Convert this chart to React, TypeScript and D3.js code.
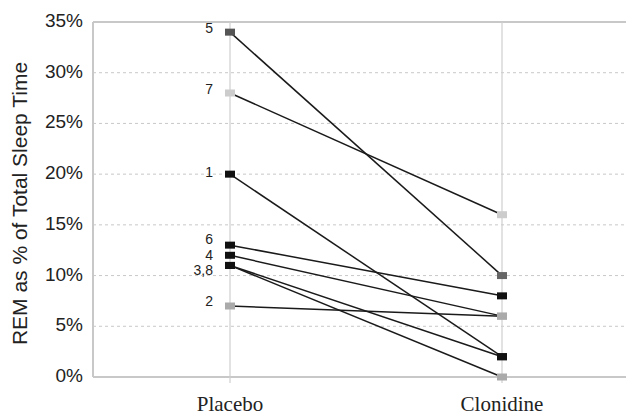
import React from "react";
import * as d3 from "d3";

// conditions on the x axis
const conditions = ["Placebo", "Clonidine"];

// REM % per subject (subjects 1..8)
const subjects = ["1", "2", "3", "4", "5", "6", "7", "8"];
const placebo = [20, 7, 11, 12, 34, 13, 28, 11];
const clonidine = [2, 6, 0, 6, 10, 8, 16, 2];
const placeboColor = ["#111", "#aaa", "#111", "#111", "#555", "#111", "#ccc", "#111"];
const clonidineColor = ["#111", "#aaa", "#aaa", "#aaa", "#666", "#111", "#ccc", "#111"];

// labels shown next to the placebo markers
const labelText = ["5", "7", "1", "6", "4", "3,8", "2"];
const labelValue = [34, 28, 20, 13, 12, 11, 7];

const yTicks = [0, 5, 10, 15, 20, 25, 30, 35];

const W = 626;
const H = 415;

export default function App() {
  const y = d3.scaleLinear().domain([0, 35]).range([377, 22]);
  const x = d3.scalePoint<string>().domain(conditions).range([230, 502]);
  const left = 93;

  // little nudges so the stacked labels don't collide
  const nudge: Record<string, number> = { "5": -3, "7": -3, "1": -1, "6": -5, "4": 1, "3,8": 6, "2": -4 };

  // draw gray/light markers first, black ones on top
  const order = [1, 2, 3, 6, 4, 0, 5, 7];

  return (
    <div style={{ position: "absolute", left: 0, top: 0 }}>
      <svg width={W} height={H} style={{ display: "block", background: "#fff" }}>
        {/* grid */}
        {yTicks.map((t) => (
          <line
            key={"g" + t}
            x1={left}
            x2={W}
            y1={y(t)}
            y2={y(t)}
            stroke={t === 0 || t === 35 ? "#c8c8c8" : "#c8c8c8"}
            strokeWidth={t === 0 || t === 35 ? 2 : 1}
            strokeDasharray={t === 0 || t === 35 ? undefined : "3,3"}
          />
        ))}
        <line x1={left} x2={left} y1={y(35)} y2={y(0)} stroke="#c8c8c8" strokeWidth={2} />
        {conditions.map((c) => (
          <line key={"v" + c} x1={x(c)} x2={x(c)} y1={y(35)} y2={y(0) + 6} stroke="#cfcfcf" strokeWidth={1.2} />
        ))}

        {/* y ticks */}
        {yTicks.map((t) => (
          <text
            key={"t" + t}
            x={83}
            y={y(t)}
            textAnchor="end"
            dominantBaseline="middle"
            fontFamily="Liberation Sans, Arial, sans-serif"
            fontSize={19}
            fill="#222"
          >
            {t + "%"}
          </text>
        ))}
        <text
          transform={`translate(21,${(y(35) + y(0)) / 2 + 4}) rotate(-90)`}
          textAnchor="middle"
          dominantBaseline="middle"
          fontFamily="Liberation Sans, Arial, sans-serif"
          fontSize={21}
          fill="#222"
        >
          REM as % of Total Sleep Time
        </text>

        {/* x labels */}
        {conditions.map((c) => (
          <text
            key={"x" + c}
            x={x(c)}
            y={411}
            textAnchor="middle"
            fontFamily="Liberation Serif, Times New Roman, serif"
            fontSize={21}
            fill="#222"
          >
            {c}
          </text>
        ))}

        {/* subject lines */}
        {subjects.map((s, i) => (
          <line
            key={"l" + s}
            x1={x("Placebo")}
            y1={y(placebo[i])}
            x2={x("Clonidine")}
            y2={y(clonidine[i])}
            stroke="#1a1a1a"
            strokeWidth={1.5}
          />
        ))}

        {/* markers */}
        {order.map((i) => (
          <g key={"m" + i}>
            <rect x={x("Placebo")! - 5} y={y(placebo[i]) - 3.5} width={10} height={7} fill={placeboColor[i]} />
            <rect x={x("Clonidine")! - 5} y={y(clonidine[i]) - 3.5} width={10} height={7} fill={clonidineColor[i]} />
          </g>
        ))}

        {/* subject labels */}
        {labelText.map((l, i) => (
          <text
            key={"s" + l}
            x={213}
            y={y(labelValue[i]) + nudge[l]}
            textAnchor="end"
            dominantBaseline="middle"
            fontFamily="Liberation Sans, Arial, sans-serif"
            fontSize={14}
            fill="#222"
          >
            {l}
          </text>
        ))}
      </svg>
    </div>
  );
}
